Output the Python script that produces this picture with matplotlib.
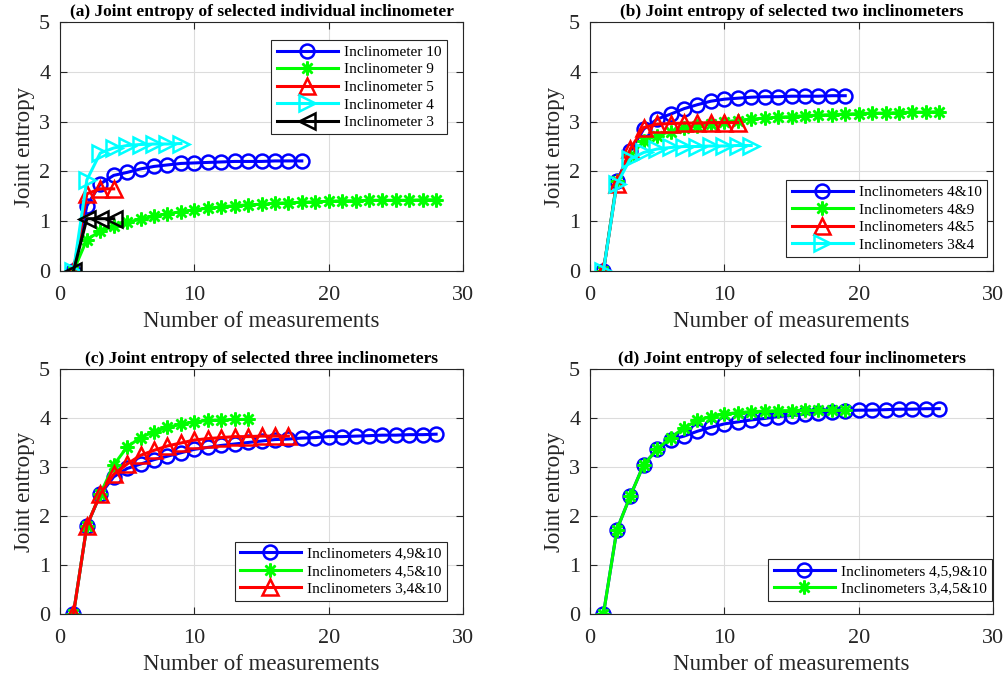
import numpy as np
import matplotlib
matplotlib.use("Agg")
import matplotlib.pyplot as plt

# (a) individual inclinometers
a_inc10 = [0, 1.31, 1.75, 1.92, 1.98, 2.05, 2.10, 2.13, 2.16, 2.17, 2.18, 2.19,
           2.20, 2.20, 2.20, 2.21, 2.21, 2.21]
a_inc9 = [0, 0.63, 0.80, 0.90, 0.98, 1.04, 1.10, 1.15, 1.19, 1.23, 1.26, 1.29,
          1.31, 1.33, 1.34, 1.36, 1.37, 1.38, 1.39, 1.40, 1.41, 1.41, 1.42, 1.42,
          1.42, 1.42, 1.43, 1.43]
a_inc5 = [0, 1.55, 1.65, 1.65]
a_inc4 = [0, 1.83, 2.37, 2.47, 2.52, 2.54, 2.55, 2.55, 2.56]
a_inc3 = [0, 1.05, 1.05, 1.05]

# (b) two inclinometers
b_4_10 = [0, 1.80, 2.40, 2.85, 3.05, 3.15, 3.26, 3.34, 3.41, 3.45, 3.47, 3.49,
          3.50, 3.50, 3.51, 3.51, 3.51, 3.52, 3.52]
b_4_9 = [0, 1.80, 2.30, 2.61, 2.72, 2.80, 2.87, 2.92, 2.96, 3.00, 3.02, 3.05,
         3.07, 3.09, 3.10, 3.12, 3.13, 3.14, 3.15, 3.16, 3.17, 3.17, 3.18, 3.19,
         3.19, 3.20]
b_4_5 = [0, 1.75, 2.45, 2.88, 2.95, 2.96, 2.97, 2.97, 2.98, 2.98, 2.98]
b_3_4 = [0, 1.75, 2.25, 2.38, 2.45, 2.48, 2.50, 2.50, 2.51, 2.51, 2.52, 2.52]

# (c) three inclinometers
c_4_9_10 = [0, 1.80, 2.44, 2.80, 2.97, 3.06, 3.15, 3.22, 3.29, 3.36, 3.40, 3.44,
            3.47, 3.50, 3.53, 3.56, 3.57, 3.59, 3.60, 3.62, 3.62, 3.63, 3.64,
            3.65, 3.65, 3.66, 3.66, 3.67]
c_4_5_10 = [0, 1.80, 2.45, 3.04, 3.41, 3.60, 3.72, 3.81, 3.87, 3.92, 3.95, 3.96,
            3.97, 3.97]
c_3_4_10 = [0, 1.80, 2.45, 2.85, 3.06, 3.24, 3.34, 3.43, 3.49, 3.55, 3.58, 3.60,
            3.62, 3.62, 3.63, 3.63, 3.63]

# (d) four inclinometers
d_4_5_9_10 = [0, 1.72, 2.41, 3.05, 3.36, 3.56, 3.63, 3.73, 3.81, 3.88, 3.92,
              3.96, 3.99, 4.03, 4.05, 4.08, 4.11, 4.13, 4.15, 4.16, 4.16, 4.17,
              4.18, 4.18, 4.19, 4.19]
d_3_4_5_10 = [0, 1.72, 2.41, 3.05, 3.36, 3.60, 3.80, 3.95, 4.03, 4.08, 4.11,
              4.13, 4.14, 4.15, 4.15, 4.16, 4.16, 4.16, 4.16]

ASTER = (8, 2, 0)
STY = {
    "blue": dict(color=(0, 0, 1), marker="o", ms=10),
    "green": dict(color=(0, 1, 0), marker=ASTER, ms=10),
    "red": dict(color=(1, 0, 0), marker="^", ms=11),
    "cyan": dict(color=(0, 1, 1), marker=">", ms=11),
    "black": dict(color=(0, 0, 0), marker="<", ms=11),
}

panels = [
    ("(a) Joint entropy of selected individual inclinometer",
     [(a_inc10, "blue", "Inclinometer 10"), (a_inc9, "green", "Inclinometer 9"),
      (a_inc5, "red", "Inclinometer 5"), (a_inc4, "cyan", "Inclinometer 4"),
      (a_inc3, "black", "Inclinometer 3")],
     dict(loc="upper right", bbox_to_anchor=(0.96, 0.928))),
    ("(b) Joint entropy of selected two inclinometers",
     [(b_4_10, "blue", "Inclinometers 4&10"), (b_4_9, "green", "Inclinometers 4&9"),
      (b_4_5, "red", "Inclinometers 4&5"), (b_3_4, "cyan", "Inclinometers 3&4")],
     dict(loc="lower right", bbox_to_anchor=(0.985, 0.056))),
    ("(c) Joint entropy of selected three inclinometers",
     [(c_4_9_10, "blue", "Inclinometers 4,9&10"),
      (c_4_5_10, "green", "Inclinometers 4,5&10"),
      (c_3_4_10, "red", "Inclinometers 3,4&10")],
     dict(loc="lower right", bbox_to_anchor=(0.96, 0.053))),
    ("(d) Joint entropy of selected four inclinometers",
     [(d_4_5_9_10, "blue", "Inclinometers 4,5,9&10"),
      (d_3_4_5_10, "green", "Inclinometers 3,4,5&10")],
     dict(loc="lower right", bbox_to_anchor=(0.9975, 0.053))),
]

plt.rcParams.update({
    "font.family": ["Liberation Serif", "DejaVu Serif"],
    "mathtext.fontset": "stix",
})

W, H = 1008, 676
fig = plt.figure(figsize=(W / 100, H / 100), dpi=100)
# axes boxes in pixels: left, top, right, bottom
boxes = [(60, 22, 463, 271), (590, 22, 993, 271),
         (60, 369, 463, 614), (590, 369, 993, 614)]
axis_col = "#262626"

for (title, series, legkw), (l, t, r, b) in zip(panels, boxes):
    ax = fig.add_axes([l / W, 1 - b / H, (r - l) / W, (b - t) / H])
    for y, key, lab in series:
        st = STY[key]
        x = np.arange(1, len(y) + 1)
        ax.plot(x, y, lw=2.2, color=st["color"], marker=st["marker"],
                ms=st["ms"], mfc="none", mec=st["color"], mew=1.8, label=lab)
    ax.set_xlim(0, 30)
    ax.set_ylim(0, 5)
    ax.set_xticks([0, 10, 20, 30])
    ax.set_yticks([0, 1, 2, 3, 4, 5])
    ax.grid(True, color="#dcdcdc", lw=0.8)
    ax.set_axisbelow(True)
    ax.tick_params(direction="in", top=True, right=True, labelsize=16,
                   colors=axis_col, length=5, width=0.8)
    ax.tick_params(axis="x", pad=11)
    ax.tick_params(axis="y", pad=7)
    for sp in ax.spines.values():
        sp.set_color(axis_col)
        sp.set_linewidth(0.8)
    ax.set_xlabel("Number of measurements", fontsize=16.5, color=axis_col,
                  labelpad=4)
    ax.set_ylabel("Joint entropy", fontsize=16.5, color=axis_col, labelpad=3)
    ax.set_title(title, fontsize=12.5, fontweight="bold", pad=4)
    leg = ax.legend(fontsize=11, frameon=True, fancybox=False,
                    edgecolor=axis_col, framealpha=1, handlelength=4,
                    borderpad=0.35, labelspacing=0.25, handletextpad=0.4,
                    borderaxespad=0, **legkw)
    leg.get_frame().set_linewidth(0.8)

fig.savefig("out.png", dpi=100)
